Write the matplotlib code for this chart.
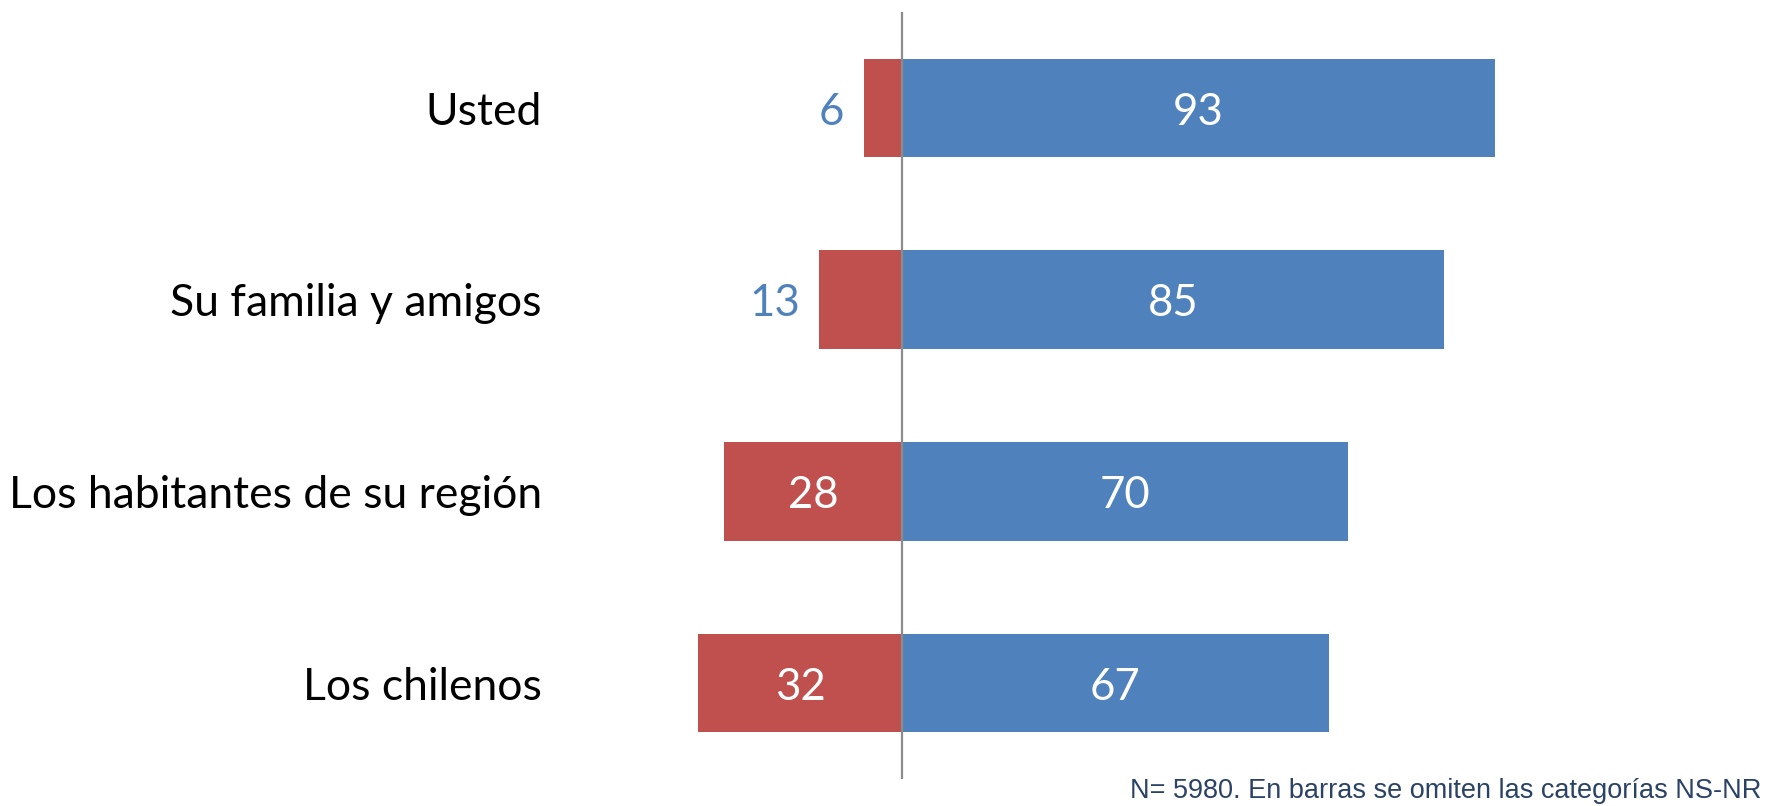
import matplotlib
matplotlib.use('Agg')
import matplotlib.pyplot as plt
import numpy as np

# Data
categories = ['Usted', 'Su familia y amigos', 'Los habitantes de su región', 'Los chilenos']
neg_values = [6, 13, 28, 32]     # red bars (left)
pos_values = [93, 85, 70, 67]    # blue bars (right)
note = 'N= 5980. En barras se omiten las categorías NS-NR'

blue = '#4F81BD'
red = '#C0504D'

plt.rcParams['font.family'] = ['Lato', 'DejaVu Sans']

fig = plt.figure(figsize=(17.79, 8.06), dpi=100)
ax = fig.add_axes([0.3638, 0.0336, 0.6267, 0.9512])

y = np.arange(len(categories))
ax.barh(y, [-v for v in neg_values], height=0.515, color=red)
ax.barh(y, pos_values, height=0.515, color=blue)
ax.axvline(0, color='#8C8C8C', lw=1.6)

ax.set_xlim(-40, 135)
ax.set_ylim(3.5, -0.5)

ax.set_yticks(y)
ax.set_yticklabels(categories, fontsize=32)
ax.tick_params(axis='y', length=0, pad=76)
ax.set_xticks([])
for s in ax.spines.values():
    s.set_visible(False)

# value labels
for i, (n, p) in enumerate(zip(neg_values, pos_values)):
    ax.text(p / 2, i, str(p), color='white', fontsize=31.5, ha='center', va='center_baseline')
    if n >= 20:
        ax.text(-n / 2, i, str(n), color='white', fontsize=31.5, ha='center', va='center_baseline')
    else:
        ax.annotate(str(n), xy=(-n, i), xytext=(-14, 0), textcoords='offset points',
                    color=blue, fontsize=31.5, ha='right', va='center_baseline')

fig.text(0.99, 0.018, note, ha='right', va='center', fontsize=19.5, color='#2A4266',
         family=['Liberation Sans Narrow', 'Liberation Sans'])

fig.savefig('out.png', dpi=100)
